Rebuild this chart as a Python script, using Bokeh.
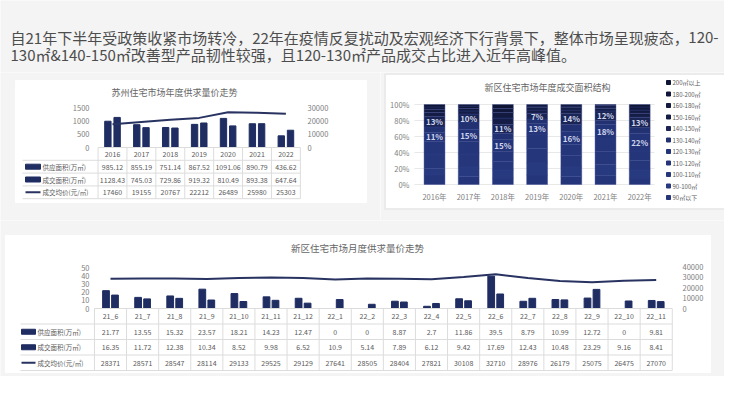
from bokeh.plotting import figure
from bokeh.models import Range1d, ColumnDataSource
from bokeh.layouts import column, row
from bokeh.embed import file_html
from bokeh.resources import INLINE
from bokeh.core.properties import value

FONT = "Noto Sans CJK SC"
BG = "#f4f4f4"
PANEL = "#ffffff"
NAVY = "#1f2d62"
LINE_C = "#283361"
TABLE_LINE = "#dcdcdc"
TXT = "#5a5a5a"
TICK = "#808080"

# ---------------- data ----------------
headline_a = "自21年下半年受政策收紧市场转冷，22年在疫情反复扰动及宏观经济下行背景下，整体市场呈现疲态，"
headline_b = "120-"
headline_c = "130㎡&140-150㎡改善型产品韧性较强，且120-130㎡产品成交占比进入近年高峰值。"

annual_title = "苏州住宅市场年度供求量价走势"
years = ["2016", "2017", "2018", "2019", "2020", "2021", "2022"]
annual_supply = [985.12, 855.19, 751.14, 867.52, 1091.06, 890.79, 436.62]
annual_deal = [1128.43, 745.03, 729.86, 919.32, 810.49, 893.38, 647.64]
annual_price = [17460, 19155, 20767, 22212, 26489, 25980, 25303]
annual_left_ticks = [0, 500, 1000, 1500]
annual_right_ticks = [0, 10000, 20000, 30000]
series_names = ["供应面积(万㎡)", "成交面积(万㎡)", "成交均价(元/㎡)"]

struct_title = "新区住宅市场年度成交面积结构"
struct_years = ["2016年", "2017年", "2018年", "2019年", "2020年", "2021年", "2022年"]
size_bands = ["90㎡以下", "90-100㎡", "100-110㎡", "110-120㎡", "120-130㎡", "130-140㎡",
              "140-150㎡", "150-160㎡", "160-180㎡", "180-200㎡", "200㎡以上"]
share_below90 = [12, 10, 8, 12, 10, 11, 8]
share_90_100 = [8, 12, 10, 15, 12, 14, 10]
share_100_110 = [18, 16, 11, 18, 14, 16, 12]
share_110_120 = [16, 16, 12, 18, 14, 16, 12]
share_120_130 = [11, 15, 15, 13, 16, 18, 22]
share_130_140 = [7, 9, 8, 6, 9, 5, 7]
share_140_150 = [13, 10, 11, 7, 14, 12, 13]
share_150_160 = [5, 4, 8, 4, 4, 3, 5]
share_160_180 = [4, 3, 7, 3, 3, 2, 4]
share_180_200 = [3, 3, 5, 2, 2, 2, 4]
share_above200 = [3, 2, 5, 2, 2, 1, 3]
struct_ticks = [0, 20, 40, 60, 80, 100]
band_colors = ["#24357a", "#27397f", "#25367b", "#25357a", "#243478", "#213171",
               "#1a2555", "#151d46", "#131a40", "#11173a", "#0e1433"]

monthly_title = "新区住宅市场月度供求量价走势"
months = ["21_6", "21_7", "21_8", "21_9", "21_10", "21_11", "21_12", "22_1", "22_2",
          "22_3", "22_4", "22_5", "22_6", "22_7", "22_8", "22_9", "22_10", "22_11"]
monthly_supply = [21.77, 13.55, 15.32, 23.57, 18.21, 14.23, 12.47, 0, 0,
                  8.87, 2.7, 11.86, 39.5, 8.79, 10.99, 12.72, 0, 9.81]
monthly_deal = [16.35, 11.72, 12.38, 10.34, 8.52, 9.98, 6.52, 10.9, 5.14,
                7.89, 6.12, 9.42, 17.69, 12.43, 10.48, 23.29, 9.16, 8.41]
monthly_price = [28371, 28571, 28547, 28114, 29133, 29525, 29129, 27641, 28505,
                 28404, 27821, 30108, 32710, 28976, 26179, 25075, 26475, 27070]
monthly_left_ticks = [0, 10, 20, 30, 40, 50]
monthly_right_ticks = [0, 10000, 20000, 30000, 40000]


def make_fig(w, h, xr, yr):
    p = figure(width=w, height=h, x_range=Range1d(*xr), y_range=Range1d(*yr),
               output_backend="svg", toolbar_location=None,
               x_axis_type=None, y_axis_type=None, min_border=0,
               background_fill_color=BG, border_fill_color=BG, outline_line_color=None)
    return p


def txt(p, x, y, t, size, color=TXT, align="center", baseline="middle", style="normal", **kw):
    p.text(x=x, y=y, text=t, text_font=value(FONT), text_font_size=size,
           text_color=color, text_align=align, text_baseline=baseline,
           text_font_style=style, **kw)


# ---------------- headline ----------------
T = make_fig(724, 72, (0, 724), (72, 0))
HEAD_C = "#4d4d4d"
txt(T, [10], [37], [headline_a], "15px", color=HEAD_C, align="left")
txt(T, [718], [37], [headline_b], "15px", color=HEAD_C, align="right")
txt(T, [10], [54], [headline_c], "15px", color=HEAD_C, align="left")

# ---------------- annual chart ----------------
XL0, XLS = 120.0, 28.9
YL0, YLS = 155.0, 40.0 / 1500.0
lx = lambda px: (px - XL0) / XLS
ly = lambda py: (YL0 - py) / YLS
PRICE_K = 20.0
L = make_fig(380, 148, (lx(8), lx(388)), (ly(228), ly(80)))
L.extra_y_ranges = {"price": Range1d(ly(228) * PRICE_K, ly(80) * PRICE_K)}
L.quad(left=[lx(23)], right=[lx(374)], top=[ly(88)], bottom=[ly(210)], color=PANEL)
txt(L, [lx(182)], [ly(100)], [annual_title], "9px", color="#666666")
txt(L, [lx(97)] * len(annual_left_ticks), annual_left_ticks,
    [str(t) for t in annual_left_ticks], "7.5px", color=TICK, align="right")
txt(L, [lx(315)] * len(annual_right_ticks), annual_right_ticks,
    [str(t) for t in annual_right_ticks], "7.5px", color=TICK, align="left", y_range_name="price")
xi = list(range(len(years)))
L.vbar(x=[i - 0.16 for i in xi], top=annual_supply, width=0.22, color=NAVY)
L.vbar(x=[i + 0.16 for i in xi], top=annual_deal, width=0.22, color=NAVY)
L.line(x=xi, y=annual_price, line_width=2, color=LINE_C, y_range_name="price")
RH = 12.8 / YLS
n = len(years)
hx0 = [-0.5] + [lx(30)] * 4
hy = [-RH * k for k in range(5)]
L.segment(x0=hx0, y0=hy, x1=[n - 0.5] * 5, y1=hy, color=TABLE_LINE, line_width=1)
vx = [k - 0.5 for k in range(n + 1)]
L.segment(x0=vx, y0=[0] * (n + 1), x1=vx, y1=[-4 * RH] * (n + 1), color=TABLE_LINE, line_width=1)
txt(L, xi, [-0.5 * RH] * n, years, "7px")
for k, vals in enumerate([annual_supply, annual_deal, annual_price]):
    txt(L, xi, [-(k + 1.5) * RH] * n, [str(v) for v in vals], "7px")
rows_y = [-(k + 1.5) * RH for k in range(3)]
L.rect(x=[lx(40.5)] * 2, y=rows_y[:2], width=15 / XLS, height=5 / YLS, color=NAVY)
L.segment(x0=[lx(33)], y0=[rows_y[2]], x1=[lx(48)], y1=[rows_y[2]], color=LINE_C, line_width=2)
txt(L, [lx(50)] * 3, rows_y, series_names, "6.5px", align="left")

# ---------------- structure chart ----------------
XR0, XRS = 442.0, 34.2
YR0, YRS = 192.0, 0.8
rx = lambda px: (px - XR0) / XRS
ry = lambda py: (YR0 - py) / YRS
R = make_fig(344, 148, (rx(388), rx(732)), (ry(228), ry(80)))
R.quad(left=[rx(392)], right=[rx(745)], top=[ry(81)], bottom=[ry(217)], color="#ebebeb")
R.quad(left=[rx(394)], right=[rx(745)], top=[ry(83)], bottom=[ry(215)], color=PANEL)
txt(R, [rx(555)], [ry(95)], [struct_title], "9px", color="#666666")
R.segment(x0=[rx(422)] * len(struct_ticks), y0=struct_ticks, x1=[rx(662)] * len(struct_ticks),
          y1=struct_ticks, color="#e8e8e8", line_width=1)
txt(R, [rx(417)] * len(struct_ticks), struct_ticks, [f"{t}%" for t in struct_ticks],
    "7.5px", color=TICK, align="right")
shares = [share_below90, share_90_100, share_100_110, share_110_120, share_120_130,
          share_130_140, share_140_150, share_150_160, share_160_180, share_180_200, share_above200]
sx = list(range(len(struct_years)))
src = {"x": sx}
for name, vals in zip(size_bands, shares):
    src[name] = vals
R.vbar_stack(stackers=size_bands, x="x", width=0.61, color=band_colors,
             line_color="#33428a", line_width=0.4, source=ColumnDataSource(src))
base4 = [sum(v) for v in zip(*shares[:4])]
base6 = [sum(v) for v in zip(*shares[:6])]
txt(R, sx, [b + v / 2 for b, v in zip(base4, share_120_130)], [f"{v}%" for v in share_120_130],
    "8px", color="#cfd5ec", style="bold")
txt(R, sx, [b + v / 2 for b, v in zip(base6, share_140_150)], [f"{v}%" for v in share_140_150],
    "8px", color="#cfd5ec", style="bold")
txt(R, sx, [ry(204)] * len(sx), struct_years, "7.5px", color=TICK)
nb = len(size_bands)
leg_y = [ry(90 + k * 11.5) for k in range(nb)]
R.scatter(x=[rx(676)] * nb, y=leg_y, marker="square", size=4, color=band_colors[::-1])
txt(R, [rx(680)] * nb, leg_y, size_bands[::-1], "6px", align="left")

# ---------------- monthly chart ----------------
XB0, XBS = 118.0, 32.1
YB0, YBS = 316.0, 0.82
bx = lambda px: (px - XB0) / XBS
by = lambda py: (YB0 - py) / YBS
PK = YBS / (42.0 / 40000.0)
B = make_fig(724, 156, (bx(8), bx(732)), (by(384), by(228)))
B.extra_y_ranges = {"price": Range1d(by(384) * PK, by(228) * PK)}
B.quad(left=[bx(13)], right=[bx(718)], top=[by(243)], bottom=[by(380)], color=PANEL)
txt(B, [bx(365)], [by(255)], [monthly_title], "9.5px", color="#666666")
txt(B, [bx(97)] * len(monthly_left_ticks), monthly_left_ticks,
    [str(t) for t in monthly_left_ticks], "7.5px", color=TICK, align="right")
txt(B, [bx(690)] * len(monthly_right_ticks), monthly_right_ticks,
    [str(t) for t in monthly_right_ticks], "7.5px", color=TICK, align="left", y_range_name="price")
mi = list(range(len(months)))
B.vbar(x=[i - 0.14 for i in mi], top=monthly_supply, width=0.21, color=NAVY)
B.vbar(x=[i + 0.14 for i in mi], top=monthly_deal, width=0.21, color=NAVY)
B.line(x=mi, y=monthly_price, line_width=2, color=LINE_C, y_range_name="price")
RHB = 15.5 / YBS
m = len(months)
hy = [-RHB * k for k in range(5)]
B.segment(x0=[-0.5] + [bx(28)] * 4, y0=hy, x1=[m - 0.5] * 5, y1=hy, color=TABLE_LINE, line_width=1)
vx = [k - 0.5 for k in range(m + 1)]
B.segment(x0=vx, y0=[0] * (m + 1), x1=vx, y1=[-4 * RHB] * (m + 1), color=TABLE_LINE, line_width=1)
txt(B, mi, [-0.5 * RHB] * m, months, "7px")
for k, vals in enumerate([monthly_supply, monthly_deal, monthly_price]):
    txt(B, mi, [-(k + 1.5) * RHB] * m, [str(v) for v in vals], "7px")
rows_y = [-(k + 1.5) * RHB for k in range(3)]
B.rect(x=[bx(36)] * 2, y=rows_y[:2], width=14 / XBS, height=5 / YBS, color=NAVY)
B.segment(x0=[bx(29)], y0=[rows_y[2]], x1=[bx(43)], y1=[rows_y[2]], color=LINE_C, line_width=2)
txt(B, [bx(45)] * 3, rows_y, series_names, "6.5px", align="left")

layout = column(T, row(L, R), B)
html = file_html(layout, INLINE)
html = html.replace("<body", '<body style="background-color:#f4f4f4;"', 1)
open("out.html", "w").write(html)
